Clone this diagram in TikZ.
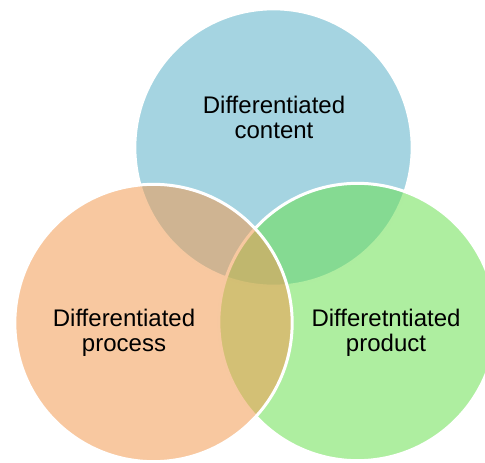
\documentclass[tikz,border=0pt]{standalone}
\usepackage{fontspec}
\setmainfont{Liberation Sans}
\usepackage{tikz}
\usepackage{xcolor}
\definecolor{ContentBlue}{RGB}{91,177,200}
\definecolor{ProcessOrange}{RGB}{242,155,82}
\definecolor{ProductGreen}{RGB}{108,224,82}
\tikzset{ring/.style={circle, draw=white, line width=2.25pt, minimum size=208pt, inner sep=0pt, fill opacity=.55},
	ringtext/.style={align=center, text=black, text opacity=1, inner sep=0pt, font=\fontsize{18}{18.75}\selectfont}}

\begin{document}
\begin{tikzpicture}[x=.75pt, y=-.75pt]
	%Rahmen
	\useasboundingbox (0,0) rectangle (485,463);
	\clip (0,0) rectangle (485,463);
	%Kreise
	\node[ring, fill=ContentBlue] (content) at (273.5,147.5) {};
	\node[ring, fill=ProductGreen] (product) at (357.5,322) {};
	\node[ring, fill=ProcessOrange] (process) at (153.5,323) {};
	%Texte
	\node[ringtext] (contenttext) at (274,117) {Differentiated\\content};
	\node[ringtext] (processtext) at (124,333) {Differentiated\\process};
	\node[ringtext] (producttext) at (386,333) {Differetntiated\\product};
\end{tikzpicture}
\end{document}
